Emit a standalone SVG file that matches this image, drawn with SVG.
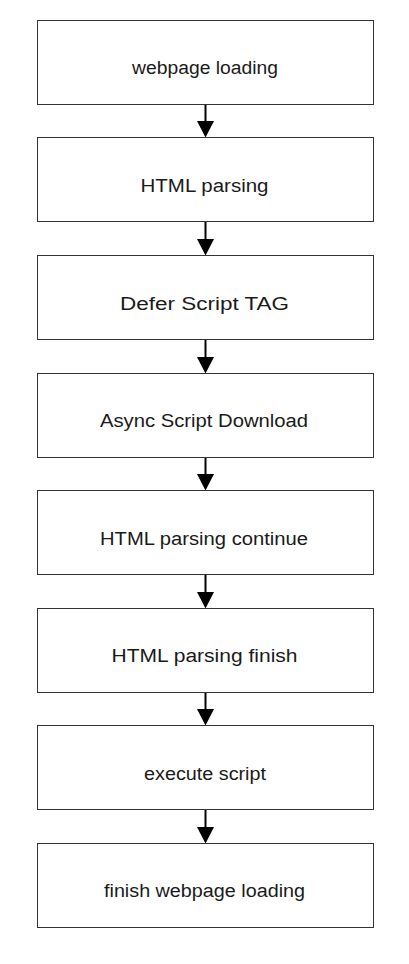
<svg xmlns="http://www.w3.org/2000/svg" width="409" height="964" viewBox="0 0 409 964">
<style>
.box{fill:#fff;stroke:#333;stroke-width:1}
.lbl{font-family:"Liberation Sans",Arial,sans-serif;font-size:18px;fill:#1a1a1a;text-anchor:middle}
.con{stroke:#000;stroke-width:2;fill:none}
.head{fill:#000}
</style>
<rect width="409" height="964" fill="#fff"/>
<g id="connectors">
<line class="con" x1="205.5" y1="104.5" x2="205.5" y2="122"/><polygon class="head" points="197,121 214,121 205.5,137.5"/>
<line class="con" x1="205.5" y1="221.5" x2="205.5" y2="240"/><polygon class="head" points="197,239 214,239 205.5,255.5"/>
<line class="con" x1="205.5" y1="339.5" x2="205.5" y2="358"/><polygon class="head" points="197,357 214,357 205.5,373.5"/>
<line class="con" x1="205.5" y1="457.5" x2="205.5" y2="475"/><polygon class="head" points="197,474 214,474 205.5,490.5"/>
<line class="con" x1="205.5" y1="574.5" x2="205.5" y2="593"/><polygon class="head" points="197,592 214,592 205.5,608.5"/>
<line class="con" x1="205.5" y1="692.5" x2="205.5" y2="710"/><polygon class="head" points="197,709 214,709 205.5,725.5"/>
<line class="con" x1="205.5" y1="809.5" x2="205.5" y2="828"/><polygon class="head" points="197,827 214,827 205.5,843.5"/>
</g>
<g id="n1"><rect class="box" x="37.5" y="20.5" width="336" height="84"/><text class="lbl" x="205" y="74" textLength="146" lengthAdjust="spacingAndGlyphs">webpage loading</text></g>
<g id="n2"><rect class="box" x="37.5" y="137.5" width="336" height="84"/><text class="lbl" x="204.5" y="191.5" textLength="128" lengthAdjust="spacingAndGlyphs">HTML parsing</text></g>
<g id="n3"><rect class="box" x="37.5" y="255.5" width="336" height="84"/><text class="lbl" x="204.5" y="309.5" textLength="169" lengthAdjust="spacingAndGlyphs">Defer Script TAG</text></g>
<g id="n4"><rect class="box" x="37.5" y="373.5" width="336" height="84"/><text class="lbl" x="204" y="427" textLength="208" lengthAdjust="spacingAndGlyphs">Async Script Download</text></g>
<g id="n5"><rect class="box" x="37.5" y="490.5" width="336" height="84"/><text class="lbl" x="204" y="544.5" textLength="208" lengthAdjust="spacingAndGlyphs">HTML parsing continue</text></g>
<g id="n6"><rect class="box" x="37.5" y="608.5" width="336" height="84"/><text class="lbl" x="204.5" y="662" textLength="186" lengthAdjust="spacingAndGlyphs">HTML parsing finish</text></g>
<g id="n7"><rect class="box" x="37.5" y="725.5" width="336" height="84"/><text class="lbl" x="205" y="779.5" textLength="122" lengthAdjust="spacingAndGlyphs">execute script</text></g>
<g id="n8"><rect class="box" x="37.5" y="843.5" width="336" height="84"/><text class="lbl" x="204.5" y="897" textLength="201" lengthAdjust="spacingAndGlyphs">finish webpage loading</text></g>
</svg>
